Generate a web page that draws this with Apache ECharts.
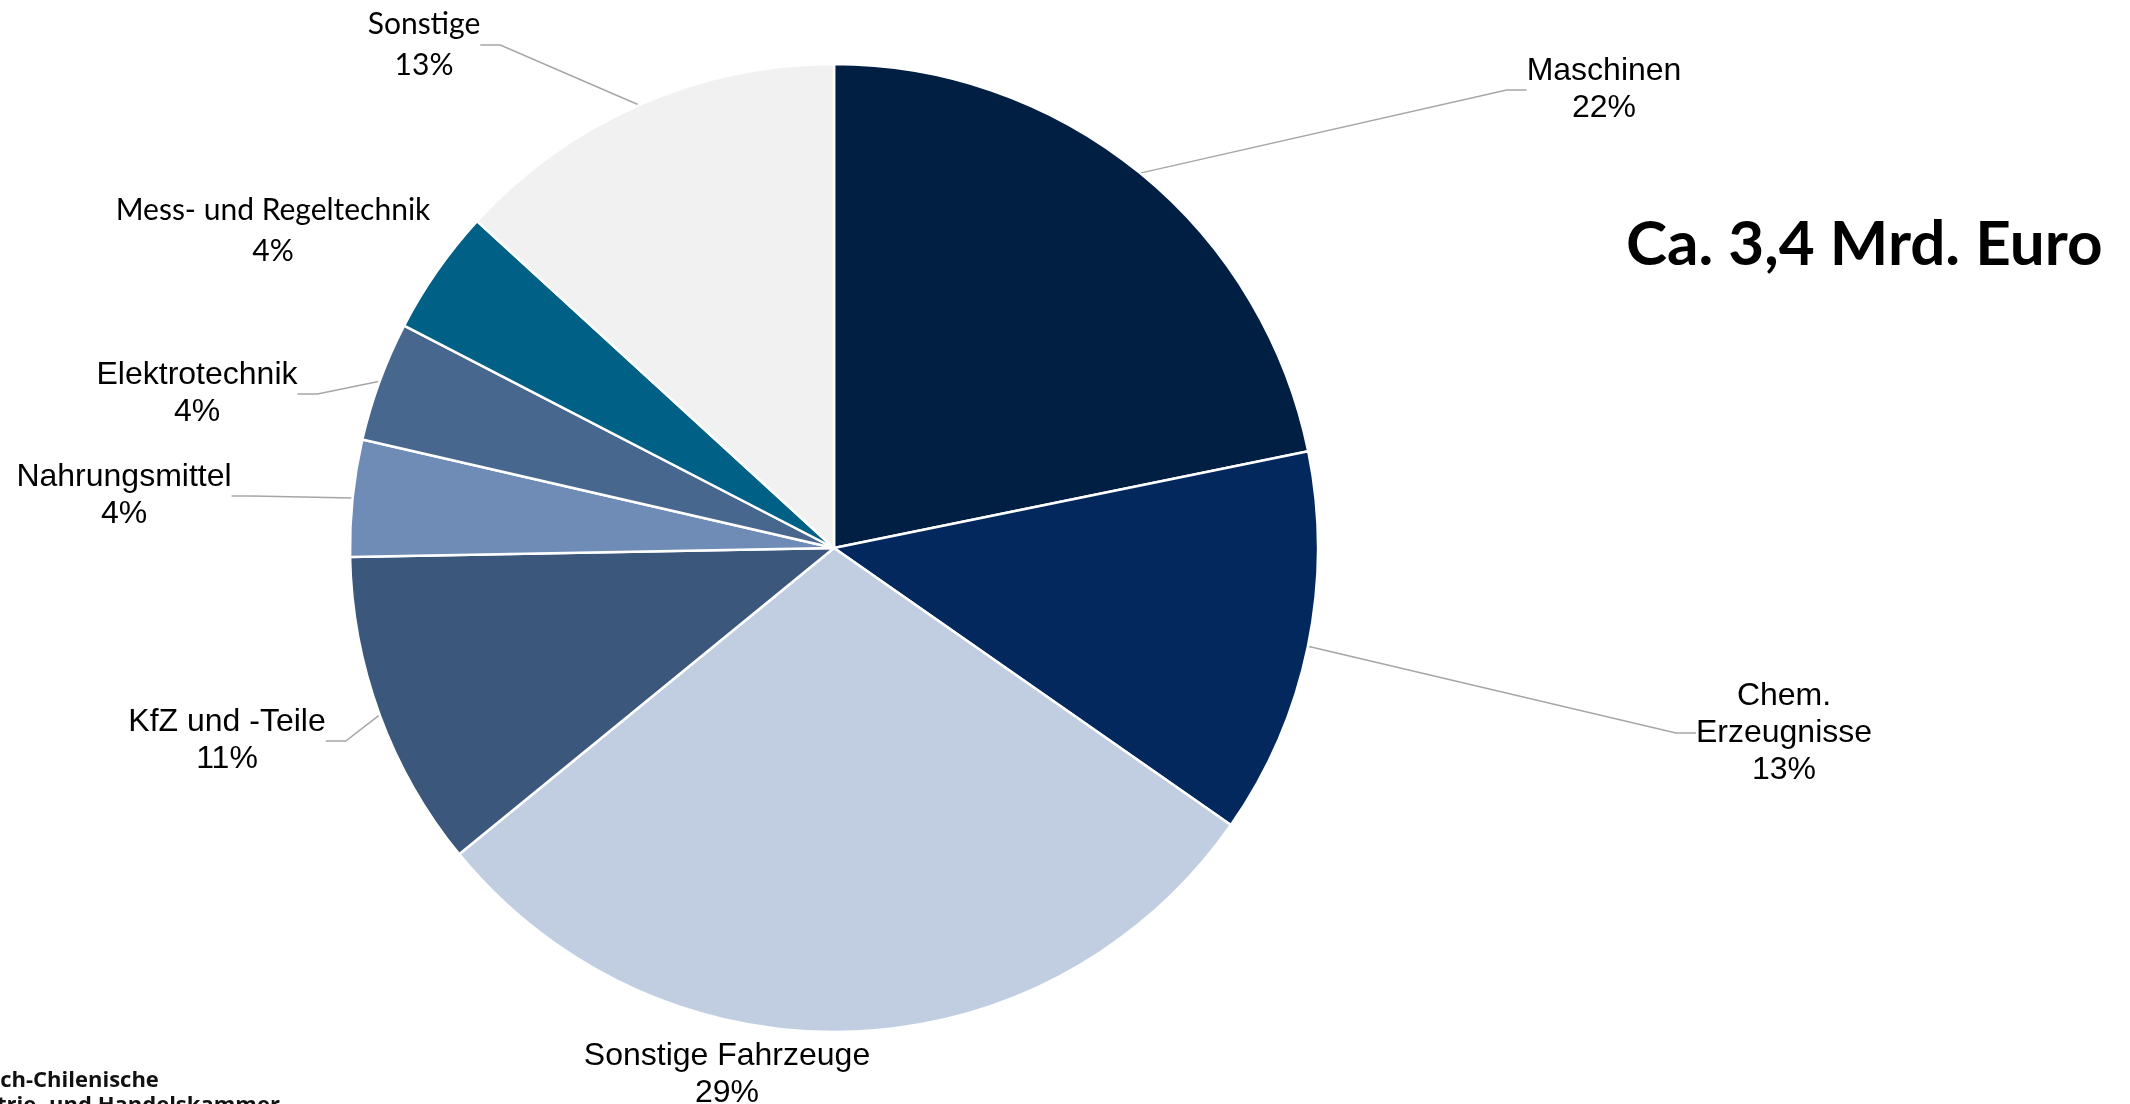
<!DOCTYPE html>
<html>
<head>
<meta charset="UTF-8">
<title>Exporte nach Chile</title>
<script src="https://cdn.jsdelivr.net/npm/echarts@6/dist/echarts.min.js"></script>
<style>
  html, body { margin: 0; padding: 0; background: #fff; }
  #container { width: 2130px; height: 1104px; }
</style>
</head>
<body>
<div id="container"></div>
<script>
// Kategorien und Anteile (in %), im Uhrzeigersinn ab 12 Uhr
var kategorien = ['Maschinen', 'Chem. Erzeugnisse', 'Sonstige Fahrzeuge', 'KfZ und -Teile',
                  'Nahrungsmittel', 'Elektrotechnik', 'Mess- und Regeltechnik', 'Sonstige'];
var anteile = [21.8, 12.9, 29.4, 10.6, 3.9, 4.0, 4.2, 13.2];
var farben = ['#011f43', '#02285e', '#c1cee1', '#3b577c', '#6e8cb6', '#48678f', '#006085', '#f1f1f1'];

// Beschriftungspositionen (Mitte des Textblocks), wie in der Vorlage manuell gesetzt
var labelPos = [[1604, 90], [1784, 733], [727, 1075], [227, 741],
                [124, 496], [197, 394], [273, 231], [424, 45]];
var ohneLinie = { 'Sonstige Fahrzeuge': true, 'Mess- und Regeltechnik': true };
var andereSchrift = { 'Mess- und Regeltechnik': true, 'Sonstige': true };

var daten = kategorien.map(function (name, i) {
    var item = { name: name, value: anteile[i], itemStyle: { color: farben[i] } };
    if (ohneLinie[name]) item.labelLine = { show: false };
    if (andereSchrift[name]) item.label = { fontFamily: 'Lato', fontSize: 30, lineHeight: 41 };
    return item;
});

var chart = echarts.init(document.getElementById('container'));
var option = {
    animation: false,
    backgroundColor: '#ffffff',
    graphic: [
        {
            type: 'text', left: 1626, top: 214,
            style: { text: 'Ca. 3,4 Mrd. Euro', font: 'bold 62px Lato', fill: '#000' }
        },
        {
            type: 'text', left: -64, top: 1068,
            style: { text: 'Deutsch-Chilenische\nIndustrie- und Handelskammer',
                     font: 'bold 22px "Open Sans"', lineHeight: 25, fill: '#111' }
        }
    ],
    series: [{
        type: 'pie',
        center: [834, 548],
        radius: 484,
        startAngle: 90,
        clockwise: true,
        avoidLabelOverlap: false,
        itemStyle: { borderColor: '#ffffff', borderWidth: 2.5 },
        label: {
            show: true,
            position: 'outside',
            fontFamily: 'Liberation Sans',
            fontSize: 32,
            lineHeight: 37,
            color: '#000',
            align: 'center',
            formatter: function (p) {
                return p.name.replace('Chem. ', 'Chem.\n') + '\n' + Math.round(p.percent) + '%';
            }
        },
        labelLine: {
            show: true,
            length: 20,
            length2: 20,
            lineStyle: { color: '#a6a6a6', width: 1.5 }
        },
        labelLayout: function (params) {
            var p = labelPos[params.dataIndex];
            return { x: p[0], y: p[1], align: 'center', verticalAlign: 'middle' };
        },
        emphasis: { disabled: true },
        data: daten
    }]
};
chart.setOption(option);
</script>
</body>
</html>
